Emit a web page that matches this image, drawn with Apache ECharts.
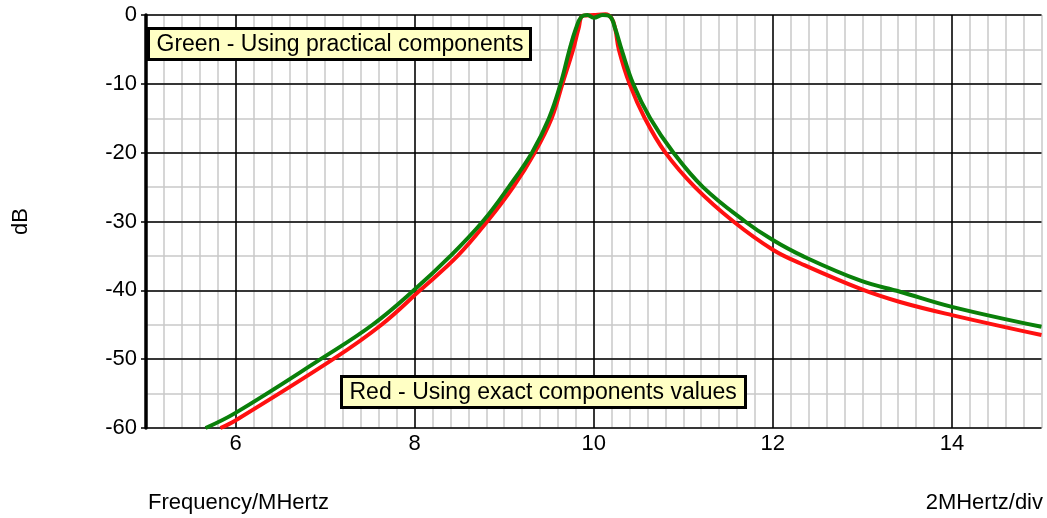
<!DOCTYPE html>
<html>
<head>
<meta charset="utf-8">
<script src="https://cdn.jsdelivr.net/npm/echarts@6/dist/echarts.min.js"></script>
<style>
  html, body { margin: 0; padding: 0; background: #fff; }
  #main { width: 1047px; height: 518px; }
</style>
</head>
<body>
<div id="main"></div>
<script>
var myChart = echarts.init(document.getElementById('main'));

// green curve - practical components
var greenFreq = [5.665, 6.0, 6.95, 7.53, 7.99, 8.40, 8.76, 9.05, 9.31, 9.50, 9.63, 9.73, 9.80, 9.86, 9.93, 10.0, 10.1, 10.18, 10.24, 10.31, 10.44, 10.63, 10.89, 11.22, 11.69, 12.0, 12.33, 12.98, 13.42, 14.0, 15.0];
var greenDb = [-60, -57.8, -50, -45, -40, -35, -30, -25, -20, -15, -10, -5, -2, -0.3, 0, -0.4, 0, -0.2, -2, -5, -10, -15, -20, -25, -30, -32.7, -35, -38.6, -40.2, -42.4, -45.3];

// red curve - exact component values
var redFreq = [5.83, 6.0, 7.09, 7.63, 8.06, 8.48, 8.81, 9.10, 9.34, 9.53, 9.65, 9.77, 9.83, 9.88, 10.0, 10.13, 10.2, 10.24, 10.28, 10.40, 10.57, 10.80, 11.13, 11.56, 12.0, 12.31, 12.98, 13.42, 14.0, 15.0];
var redDb = [-60, -58.9, -50, -45, -40, -35, -30, -25, -20, -15, -10, -5, -2, -0.1, 0, 0.1, -0.5, -2, -5, -10, -15, -20, -25, -30, -34.1, -36.1, -39.8, -41.7, -43.6, -46.5];

var xLabels = [6, 8, 10, 12, 14];

function pairs(xs, ys) {
  var out = [];
  xs.forEach(function(x, i){ out.push([x, ys[i]]); });
  return out;
}

var font = '"Liberation Sans", Arial, Helvetica, sans-serif';

option = {
  animation: false,
  grid: { left: 146, right: 5.5, top: 15, bottom: 90 },
  xAxis: [{
    type: 'value',
    min: 5, max: 15, interval: 1,
    z: 2,
    axisLine: { show: false },
    axisTick: { show: false },
    axisLabel: {
      margin: 5,
      color: '#000', fontSize: 22, fontFamily: font,
      formatter: function (v) { return xLabels.indexOf(v) >= 0 ? String(v) : ''; }
    },
    splitLine: { show: true, lineStyle: { color: ['rgba(0,0,0,0)', '#000'], width: 1.5 } }
  }, {
    // minor vertical grid
    type: 'value',
    min: 5, max: 15, interval: 0.2,
    z: 1,
    axisLine: { show: false },
    axisTick: { show: false },
    axisLabel: { show: false },
    splitLine: { show: true, lineStyle: { color: '#c8c8c8', width: 1.5 } }
  }],
  yAxis: [{
    type: 'value',
    min: -60, max: 0, interval: 10,
    z: 3,
    name: 'dB',
    nameLocation: 'middle',
    nameGap: 114,
    nameRotate: 90,
    nameTextStyle: { color: '#000', fontSize: 22, fontFamily: font },
    axisLine: { show: true, onZero: false, lineStyle: { color: '#000', width: 3.5 } },
    axisTick: { show: true, length: 5, lineStyle: { color: '#000', width: 1.5 } },
    axisLabel: { margin: 9, color: '#000', fontSize: 22, fontFamily: font },
    splitLine: { show: true, lineStyle: { color: '#000', width: 1.5 } }
  }, {
    // minor horizontal grid
    type: 'value',
    min: -60, max: 0, interval: 5,
    position: 'left',
    z: 1,
    axisLine: { show: false },
    axisTick: { show: false },
    axisLabel: { show: false },
    splitLine: { show: true, lineStyle: { color: '#c8c8c8', width: 1.5 } }
  }],
  graphic: [{
    type: 'group', left: 147, top: 27, z: 100,
    children: [{
      type: 'rect', z: 100,
      shape: { x: 0, y: 0, width: 382, height: 31 },
      style: { fill: '#ffffc4', stroke: '#000', lineWidth: 3 }
    }, {
      type: 'text', x: 8, y: 16, z: 101,
      style: { text: 'Green - Using practical components', fill: '#000', font: '23px ' + font, verticalAlign: 'middle' }
    }]
  }, {
    type: 'group', left: 340, top: 375, z: 100,
    children: [{
      type: 'rect', z: 100,
      shape: { x: 0, y: 0, width: 404, height: 31 },
      style: { fill: '#ffffc4', stroke: '#000', lineWidth: 3 }
    }, {
      type: 'text', x: 8, y: 16, z: 101,
      style: { text: 'Red - Using exact components values', fill: '#000', font: '23px ' + font, verticalAlign: 'middle' }
    }]
  }, {
    type: 'text', left: 148, top: 492,
    style: { text: 'Frequency/MHertz', fill: '#000', font: '22px ' + font }
  }, {
    type: 'text', right: 4, top: 492,
    style: { text: '2MHertz/div', fill: '#000', font: '22px ' + font }
  }],
  series: [{
    name: 'Red',
    type: 'line',
    data: pairs(redFreq, redDb),
    showSymbol: false,
    smooth: 0.4,
    clip: false,
    z: 5,
    lineStyle: { color: '#ff1010', width: 4 }
  }, {
    name: 'Green',
    type: 'line',
    data: pairs(greenFreq, greenDb),
    showSymbol: false,
    smooth: 0.4,
    clip: false,
    z: 6,
    lineStyle: { color: '#0a800a', width: 4 }
  }]
};

myChart.setOption(option);
</script>
</body>
</html>
